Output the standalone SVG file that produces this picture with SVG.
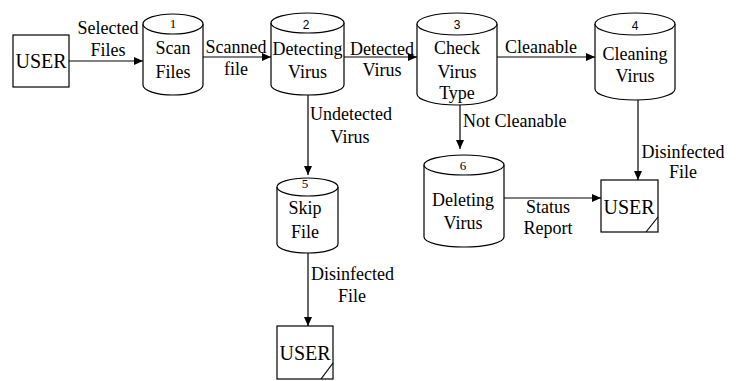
<svg xmlns="http://www.w3.org/2000/svg" width="739" height="381" viewBox="0 0 739 381">
<style>
.s{fill:#fff;stroke:#000;stroke-width:1.2}
.c{fill:none;stroke:#000;stroke-width:1.2}
text{font-family:'Liberation Serif','DejaVu Serif',serif;fill:#000}
.t{font-size:18px;text-anchor:middle}
.l{font-size:18px}
.n{font-size:13px;text-anchor:middle}
.ns{font-family:'Liberation Sans',Arial,sans-serif;font-size:12px;text-anchor:middle}
.u{font-size:20px;text-anchor:middle}
</style>
<defs>
<marker id="a" markerWidth="10" markerHeight="8" refX="9" refY="4" orient="auto" markerUnits="userSpaceOnUse">
<path d="M0,0 L9,4 L0,8 Z" fill="#000"/>
</marker>
</defs>
<rect width="739" height="381" fill="#fff"/>
<g id="connectors">
<line class="c" x1="69" y1="61" x2="143" y2="61" marker-end="url(#a)"/>
<line class="c" x1="203" y1="57" x2="271" y2="57" marker-end="url(#a)"/>
<line class="c" x1="344" y1="57" x2="417" y2="57" marker-end="url(#a)"/>
<line class="c" x1="497" y1="57" x2="595" y2="57" marker-end="url(#a)"/>
<line class="c" x1="460" y1="105" x2="460" y2="149" marker-end="url(#a)"/>
<line class="c" x1="308" y1="95" x2="308" y2="175" marker-end="url(#a)"/>
<line class="c" x1="308" y1="253" x2="308" y2="326" marker-end="url(#a)"/>
<line class="c" x1="638" y1="100" x2="638" y2="180" marker-end="url(#a)"/>
<line class="c" x1="504" y1="198" x2="601" y2="198" marker-end="url(#a)"/>
<text class="t" x="108" y="34">Selected</text>
<text class="t" x="108" y="56">Files</text>
<text class="t" x="236" y="53">Scanned</text>
<text class="t" x="236" y="75">file</text>
<text class="t" x="382" y="55">Detected</text>
<text class="t" x="382" y="76">Virus</text>
<text class="t" x="541" y="53">Cleanable</text>
<text class="l" x="310" y="120">Undetected</text>
<text class="t" x="350" y="143">Virus</text>
<text class="l" x="463" y="127">Not Cleanable</text>
<text class="t" x="683" y="158">Disinfected</text>
<text class="t" x="683" y="178">File</text>
<text class="t" x="548" y="213">Status</text>
<text class="t" x="548" y="234">Report</text>
<text class="l" x="311" y="280">Disinfected</text>
<text class="t" x="352" y="302">File</text>
</g>
<g id="user1">
<rect class="s" x="13" y="35" width="56" height="52"/>
<text class="u" x="41" y="68">USER</text>
</g>
<g id="p1">
<path class="s" d="M143,24 V85 A30,10 0 0 0 203,85 V24"/>
<ellipse class="s" cx="173" cy="24" rx="30" ry="10"/>
<text class="n" x="173" y="28">1</text>
<text class="t" x="173" y="54">Scan</text>
<text class="t" x="173" y="78">Files</text>
</g>
<g id="p2">
<path class="s" d="M271,23 V85 A36.5,10 0 0 0 344,85 V23"/>
<ellipse class="s" cx="307.5" cy="23" rx="36.5" ry="10"/>
<text class="ns" x="306" y="29">2</text>
<text class="t" x="307.5" y="55">Detecting</text>
<text class="t" x="307.5" y="78">Virus</text>
</g>
<g id="p3">
<path class="s" d="M417,24 V94 A40,11 0 0 0 497,94 V24"/>
<ellipse class="s" cx="457" cy="24" rx="40" ry="11"/>
<text class="ns" x="457" y="29">3</text>
<text class="t" x="457" y="54">Check</text>
<text class="t" x="457" y="78">Virus</text>
<text class="t" x="457" y="99">Type</text>
</g>
<g id="p4">
<path class="s" d="M595,24 V89 A40,11 0 0 0 675,89 V24"/>
<ellipse class="s" cx="635" cy="24" rx="40" ry="11"/>
<text class="ns" x="635" y="30">4</text>
<text class="t" x="635" y="60">Cleaning</text>
<text class="t" x="635" y="82">Virus</text>
</g>
<g id="p5">
<path class="s" d="M277,187 V244 A30.5,9 0 0 0 338,244 V187"/>
<ellipse class="s" cx="307.5" cy="187" rx="30.5" ry="9"/>
<text class="n" x="305" y="188">5</text>
<text class="t" x="305" y="214">Skip</text>
<text class="t" x="305" y="238">File</text>
</g>
<g id="p6">
<path class="s" d="M424,165 V237 A40,10 0 0 0 504,237 V165"/>
<ellipse class="s" cx="464" cy="165" rx="40" ry="10"/>
<text class="n" x="463" y="170">6</text>
<text class="t" x="463" y="206">Deleting</text>
<text class="t" x="463" y="229">Virus</text>
</g>
<g id="user2">
<rect class="s" x="601" y="180" width="57" height="52"/>
<line class="c" x1="658" y1="217" x2="646" y2="232"/>
<text class="u" x="629" y="214">USER</text>
</g>
<g id="user3">
<rect class="s" x="277" y="326" width="56" height="53"/>
<line class="c" x1="333" y1="363" x2="321" y2="379"/>
<text class="u" x="305" y="360">USER</text>
</g>
</svg>
